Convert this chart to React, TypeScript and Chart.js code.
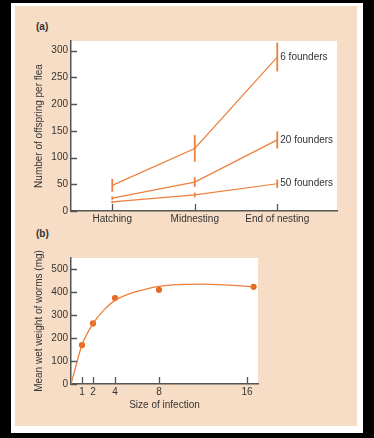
import React, { useEffect, useRef } from "react";
import { Chart, registerables } from "chart.js";
Chart.register(...registerables);

// ---- Panel (a) data ----
const stages = ["Hatching", "Midnesting", "End of nesting"];
const stageIndex = [0, 1, 2];
const founders6 = [48, 117, 288];
const founders6Err = [12, 25, 27];
const founders20 = [24, 54, 133];
const founders20Err = [3, 9, 16];
const founders50 = [17, 30, 51];
const founders50Err = [2, 4.5, 8];
const seriesLabels = ["6 founders", "20 founders", "50 founders"];
const offspringTicks = [0, 50, 100, 150, 200, 250, 300];

// ---- Panel (b) data ----
const infectionSize = [1, 2, 4, 8, 16.6];
const wormWeight = [169, 263, 373, 409, 422];
const fitX = [0, 0.5, 1, 2, 3, 4, 5, 6, 8, 10, 12, 14, 16.6];
const fitY = [0, 88, 170, 262, 322, 363, 386, 402, 424, 432, 434, 430, 422];
const infectionTicks = [1, 2, 4, 8, 16];
const weightTicks = [0, 100, 200, 300, 400, 500];

const FONT = "'Liberation Sans', Arial, Helvetica, sans-serif";
const TEXT = "#333333";
const AXIS = "#555555";
const LINE = "#EE7F3C";
const DOT = "#E36A1E";
const PEACH = "#F7DDC6";

const whiteArea = {
  id: "whiteArea",
  beforeDraw(chart: any) {
    const { ctx, chartArea: a } = chart;
    ctx.save();
    ctx.fillStyle = "#ffffff";
    ctx.fillRect(a.left, a.top, a.right - a.left, a.bottom - a.top);
    ctx.restore();
  },
};

const innerTicks = {
  id: "innerTicks",
  afterDraw(chart: any) {
    const { ctx, chartArea: a } = chart;
    const xs = chart.scales.x;
    const ys = chart.scales.y;
    ctx.save();
    ctx.strokeStyle = AXIS;
    ctx.lineWidth = 1.3;
    ctx.beginPath();
    xs.ticks.forEach((t: any) => {
      const px = Math.round(xs.getPixelForValue(t.value)) + 0.5;
      ctx.moveTo(px, a.bottom);
      ctx.lineTo(px, a.bottom - 7);
    });
    ys.ticks.forEach((t: any) => {
      const py = Math.round(ys.getPixelForValue(t.value)) + 0.5;
      ctx.moveTo(a.left, py);
      ctx.lineTo(a.left + 6, py);
    });
    ctx.stroke();
    ctx.restore();
  },
};

const errorBars = {
  id: "errorBars",
  afterDatasetsDraw(chart: any) {
    const { ctx } = chart;
    const xs = chart.scales.x;
    const ys = chart.scales.y;
    ctx.save();
    ctx.strokeStyle = LINE;
    ctx.lineWidth = 1.8;
    chart.data.datasets.forEach((ds: any) => {
      const errs: number[] = ds.errors || [];
      ds.data.forEach((p: any, i: number) => {
        const e = errs[i];
        if (!e) return;
        const px = xs.getPixelForValue(p.x);
        ctx.beginPath();
        ctx.moveTo(px, ys.getPixelForValue(p.y - e));
        ctx.lineTo(px, ys.getPixelForValue(p.y + e));
        ctx.stroke();
      });
    });
    ctx.restore();
  },
};

const endLabels = {
  id: "endLabels",
  afterDraw(chart: any) {
    const { ctx } = chart;
    const xs = chart.scales.x;
    const ys = chart.scales.y;
    ctx.save();
    ctx.fillStyle = TEXT;
    ctx.font = `10px ${FONT}`;
    ctx.textAlign = "left";
    ctx.textBaseline = "middle";
    chart.data.datasets.forEach((ds: any) => {
      const last = ds.data[ds.data.length - 1];
      ctx.fillText(ds.label, xs.getPixelForValue(last.x) + 3, ys.getPixelForValue(last.y));
    });
    ctx.restore();
  },
};

function toPoints(xs: number[], ys: number[]) {
  return xs.map((x, i) => ({ x, y: ys[i] }));
}

export default function App() {
  const refA = useRef<HTMLCanvasElement | null>(null);
  const refB = useRef<HTMLCanvasElement | null>(null);

  useEffect(() => {
    const tickFont = { family: FONT, size: 10 };
    const seriesVals = [founders6, founders20, founders50];
    const seriesErrs = [founders6Err, founders20Err, founders50Err];

    const chartA = new Chart(refA.current as HTMLCanvasElement, {
      type: "scatter",
      data: {
        datasets: seriesVals.map((vals, k) => ({
          label: seriesLabels[k],
          data: toPoints(stageIndex, vals),
          errors: seriesErrs[k],
          showLine: true,
          borderColor: LINE,
          borderWidth: 1.2,
          pointRadius: 0,
          tension: 0,
        })) as any,
      },
      options: {
        animation: false,
        responsive: false,
        events: [],
        layout: { padding: { top: 35, right: 20, left: 0, bottom: 0 } },
        plugins: { legend: { display: false }, tooltip: { enabled: false } },
        scales: {
          x: {
            type: "linear",
            min: -0.5,
            max: 2.724,
            afterBuildTicks: (s: any) => {
              s.ticks = stageIndex.map((v) => ({ value: v }));
            },
            afterFit: (s: any) => {
              s.height = 17;
            },
            grid: { display: false, drawTicks: false },
            border: { display: true, color: AXIS, width: 1.5 },
            ticks: {
              color: TEXT,
              font: tickFont,
              padding: 2,
              maxRotation: 0,
              autoSkip: false,
              callback: (v: any) => {
                const i = stageIndex.indexOf(Number(v));
                return i >= 0 ? stages[i] : "";
              },
            },
          },
          y: {
            type: "linear",
            min: 0,
            max: 318,
            afterBuildTicks: (s: any) => {
              s.ticks = offspringTicks.map((v) => ({ value: v }));
            },
            afterFit: (s: any) => {
              s.width = 56;
            },
            grid: { display: false, drawTicks: false },
            border: { display: true, color: AXIS, width: 1.5 },
            ticks: { color: TEXT, font: tickFont, padding: 3 },
            title: {
              display: true,
              text: "Number of offspring per flea",
              color: TEXT,
              font: { family: FONT, size: 10 },
              padding: { top: 18, bottom: 0 },
            },
          },
        },
      } as any,
      plugins: [whiteArea, errorBars, innerTicks, endLabels],
    });

    const chartB = new Chart(refB.current as HTMLCanvasElement, {
      type: "scatter",
      data: {
        datasets: [
          {
            label: "fit",
            data: toPoints(fitX, fitY),
            showLine: true,
            borderColor: LINE,
            borderWidth: 1.3,
            pointRadius: 0,
            cubicInterpolationMode: "monotone",
          },
          {
            label: "Mean wet weight",
            data: toPoints(infectionSize, wormWeight),
            pointRadius: 3.1,
            backgroundColor: DOT,
            borderWidth: 0,
          },
        ] as any,
      },
      options: {
        animation: false,
        responsive: false,
        events: [],
        layout: { padding: { top: 30, right: 99, left: 0, bottom: 0 } },
        plugins: { legend: { display: false }, tooltip: { enabled: false } },
        scales: {
          x: {
            type: "linear",
            min: 0,
            max: 17,
            afterBuildTicks: (s: any) => {
              s.ticks = infectionTicks.map((v) => ({ value: v }));
            },
            afterFit: (s: any) => {
              s.height = 42;
            },
            grid: { display: false, drawTicks: false },
            border: { display: true, color: AXIS, width: 1.5 },
            ticks: { color: TEXT, font: tickFont, padding: 2, maxRotation: 0, autoSkip: false },
            title: {
              display: true,
              text: "Size of infection",
              color: TEXT,
              font: { family: FONT, size: 10 },
              padding: { top: 0, bottom: 15 },
            },
          },
          y: {
            type: "linear",
            min: 0,
            max: 547,
            afterBuildTicks: (s: any) => {
              s.ticks = weightTicks.map((v) => ({ value: v }));
            },
            afterFit: (s: any) => {
              s.width = 56;
            },
            grid: { display: false, drawTicks: false },
            border: { display: true, color: AXIS, width: 1.5 },
            ticks: { color: TEXT, font: tickFont, padding: 3 },
            title: {
              display: true,
              text: "Mean wet weight of worms (mg)",
              color: TEXT,
              font: { family: FONT, size: 10 },
              padding: { top: 18, bottom: 0 },
            },
          },
        },
      } as any,
      plugins: [whiteArea, innerTicks],
    });

    return () => {
      chartA.destroy();
      chartB.destroy();
    };
  }, []);

  const panelLabel: React.CSSProperties = {
    position: "absolute",
    fontFamily: FONT,
    fontWeight: "bold",
    fontSize: 10,
    lineHeight: "12px",
    color: TEXT,
  };

  return (
    <div
      style={{
        position: "fixed",
        left: 0,
        top: 0,
        width: 374,
        height: 438,
        background: "#000000",
        overflow: "hidden",
      }}
    >
      <div style={{ position: "absolute", left: 11, top: 3, width: 352, height: 430, background: "#ffffff" }} />
      <div style={{ position: "absolute", left: 15, top: 6, width: 342, height: 420, background: PEACH }} />
      <div style={{ ...panelLabel, left: 36, top: 21 }}>(a)</div>
      <div style={{ ...panelLabel, left: 36, top: 228 }}>(b)</div>
      <canvas ref={refA} width={342} height={222} style={{ position: "absolute", left: 15, top: 6 }} />
      <canvas ref={refB} width={342} height={198} style={{ position: "absolute", left: 15, top: 228 }} />
    </div>
  );
}
